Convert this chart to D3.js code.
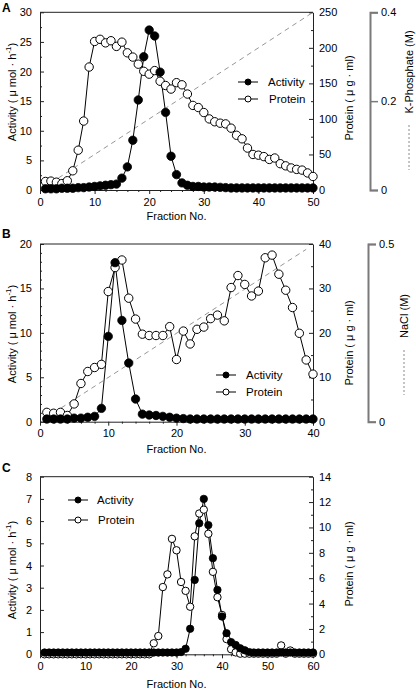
<!DOCTYPE html>
<html><head><meta charset="utf-8">
<script src="https://cdn.jsdelivr.net/npm/d3@7"></script>
<style>
body{margin:0;background:#fff}
svg{display:block}
text{font-family:"Liberation Sans",Arial,sans-serif;fill:#000}
</style>
</head><body>
<svg id="chart" width="416" height="691"></svg>
<script>
// ---------- Panel A ----------
const fractionsA = [1,2,3,4,5,6,7,8,9,10,11,12,13,14,15,16,17,18,19,20,21,22,23,24,25,26,27,28,29,30,31,32,33,34,35,36,37,38,39,40,41,42,43,44,45,46,47,48,49,50];
const activityA = [0.2,0.2,0.2,0.3,0.3,0.3,0.4,0.4,0.5,0.6, 0.7,0.8,0.9,1.0,2.0,3.9,8.4,15.2,22.5,27.0, 26.0,19.9,13.1,5.7,2.6,1.2,0.8,0.6,0.6,0.5, 0.5,0.5,0.45,0.4,0.35,0.35,0.35,0.35,0.35,0.35, 0.35,0.35,0.35,0.35,0.35,0.35,0.35,0.35,0.35,0.35];
const proteinA = [12,12.5,11,9,13,27,56,97,173,209, 212,207,210,202,208,193,187,177,167,163, 168,153,147,142,151,148,135,119,116,109, 100,96,94,93,87,77,72,59,50,49, 47,43,45,37,34,31,29,28,24,19];
const gradientAFractions = [2, 50];
const gradientAValues = [0.016, 0.4];
const leftTicksA = [0,5,10,15,20,25,30];
const rightTicksA = [0,50,100,150,200,250];
const xTicksA = [0,10,20,30,40,50];
const gradTicksA = [0,0.2,0.4];

// ---------- Panel B ----------
const fractionsB = [1,2,3,4,5,6,7,8,9,10,11,12,13,14,15,16,17,18,19,20,21,22,23,24,25,26,27,28,29,30,31,32,33,34,35,36,37,38,39,40];
const activityB = [0.3,0.3,0.3,0.3,0.4,0.4,0.5,0.6,1.5,9.6, 17.9,11.4,6.6,2.55,0.85,0.75,0.7,0.6,0.5,0.4, 0.35,0.3,0.3,0.3,0.3,0.3,0.3,0.3,0.3,0.3, 0.3,0.3,0.3,0.3,0.3,0.3,0.3,0.3,0.3,0.3];
const proteinB = [2.1,1.9,2.1,1.4,4.0,8.6,11.3,12.2,12.9,29.3, 34.7,36.4,27.8,23.1,19.7,19.4,19.4,19.4,21.4,14.0, 20.4,17.5,20.8,21.3,23.2,24.0,22.7,30.2,32.9,30.9, 28.3,29.4,36.9,37.5,33.2,29.6,25.7,19.9,13.9,10.7];
const gradientBFractions = [2, 39];
const gradientBValues = [0.025, 0.485];
const leftTicksB = [0,5,10,15,20];
const rightTicksB = [0,10,20,30,40];
const xTicksB = [0,10,20,30,40];
const gradTicksB = [0,0.5];

// ---------- Panel C ----------
const fractionsC = [1,2,3,4,5,6,7,8,9,10,11,12,13,14,15,16,17,18,19,20,21,22,23,24,25,26,27,28,29,30,31,32,33,34,35,36,37,38,39,40,41,42,43,44,45,46,47,48,49,50,51,52,53,54,55,56,57,58,59,60];
const activityC = [0.08,0.08,0.08,0.08,0.08,0.08,0.08,0.08,0.08,0.08, 0.08,0.08,0.08,0.08,0.08,0.08,0.08,0.08,0.08,0.08, 0.08,0.08,0.08,0.08,0.08,0.08,0.08,0.08,0.08,0.08, 0.1,0.25,1.15,3.35,5.9,7.0,5.82,4.33,2.9,1.7, 0.95,0.55,0.42,0.27,0.18,0.1,0.08,0.08,0.08,0.08, 0.08,0.08,0.08,0.08,0.08,0.08,0.08,0.08,0.08,0.08];
const proteinC = [0,0,0,0,0,0,0,0,0,0, 0,0,0,0,0,0,0,0,0,0, 0,0,0,0,0.87,1.44,5.3,6.3,9.1,8.2, 5.7,5.0,3.75,9.3,11.1,11.4,9.5,6.5,4.5,3.1, 1.2,0.4,0.15,0.05,0.05,0.05,0.05,0.05,0.05,0.05, 0.05,0.05,0.7,0.05,0.3,0.05,0.05,0.05,0.05,0.05];
const leftTicksC = [0,1,2,3,4,5,6,7,8];
const rightTicksC = [0,2,4,6,8,10,12,14];
const xTicksC = [0,10,20,30,40,50,60];

const legendLabels = ["Activity", "Protein"];

const svg = d3.select("#chart");
const X0 = 40, X1 = 313;

function axisStyle(sel, color, width){
  sel.select(".domain").attr("stroke", color || "#222").attr("stroke-width", width || 1);
  sel.selectAll(".tick line").attr("stroke", color || "#222");
  sel.selectAll(".tick text").attr("font-size", 11).attr("fill", "#000")
     .attr("font-family", '"Liberation Sans",Arial,sans-serif');
}
function minorAxis(g, axisFn, scale, vals, size, transform){
  const a = axisFn(scale).tickValues(vals).tickSizeInner(size).tickSizeOuter(0).tickFormat("");
  const s = g.append("g").attr("transform", transform).call(a);
  s.select(".domain").remove();
  s.selectAll(".tick line").attr("stroke", "#222");
}

function drawPanel(o){
  const g = svg.append("g");
  const x = d3.scaleLinear().domain([o.xTicks[0], o.xTicks[o.xTicks.length-1]]).range([X0, X1]);
  const yL = d3.scaleLinear().domain([0, o.leftTicks[o.leftTicks.length-1]]).range([o.bottom, o.top]);
  const yR = d3.scaleLinear().domain([0, o.rightTicks[o.rightTicks.length-1]]).range([o.bottom, o.top]);

  // gradient
  if (o.gradF){
    const yG = d3.scaleLinear().domain([0, o.gradTicks[o.gradTicks.length-1]]).range([o.bottom, o.top]);
    const pts = o.gradF.map((f,i)=>[f, o.gradV[i]]);
    g.append("path").datum(pts)
      .attr("d", d3.line().x(d=>x(d[0])).y(d=>yG(d[1])))
      .attr("fill","none").attr("stroke","#8a8a8a").attr("stroke-width",0.9).attr("stroke-dasharray","5,4");
    const ga = g.append("g").attr("transform", `translate(${o.gAxisX},0)`)
      .call(d3.axisRight(yG).tickValues(o.gradTicks).tickSize(8).tickPadding(3).tickFormat(d=> d===0 ? "0" : d3.format(".1f")(d)));
    axisStyle(ga, "#7a7a7a", 2);
    ga.selectAll(".tick line").attr("stroke-width", 1.5);
    g.append("text").attr("transform", `translate(${o.gLabelX},${o.gLabelY}) rotate(-90)`)
      .attr("text-anchor","middle").attr("dominant-baseline","central").attr("font-size",11).text(o.gLabel);
    g.append("line").attr("x1", o.gLabelX).attr("x2", o.gLabelX).attr("y1", o.gDashY[0]).attr("y2", o.gDashY[1])
      .attr("stroke","#8a8a8a").attr("stroke-width",1).attr("stroke-dasharray","2,2");
  }

  // minor ticks
  minorAxis(g, d3.axisBottom, x, o.xMinor, 2, `translate(0,${o.bottom})`);
  minorAxis(g, d3.axisLeft, yL, o.leftMinor, -2, `translate(${X0},0)`);
  minorAxis(g, d3.axisRight, yR, o.rightMinor, -2, `translate(${X1},0)`);

  // axes
  const xa = g.append("g").attr("transform", `translate(0,${o.bottom})`)
    .call(d3.axisBottom(x).tickValues(o.xTicks).tickSizeInner(4).tickSizeOuter(0).tickPadding(4));
  axisStyle(xa);
  const la = g.append("g").attr("transform", `translate(${X0},0)`)
    .call(d3.axisLeft(yL).tickValues(o.leftTicks).tickSizeInner(-4).tickSizeOuter(0).tickPadding(8));
  axisStyle(la);
  const ra = g.append("g").attr("transform", `translate(${X1},0)`)
    .call(d3.axisRight(yR).tickValues(o.rightTicks).tickSizeInner(-4).tickSizeOuter(0).tickPadding(6));
  axisStyle(ra);
  g.append("line").attr("x1",X0).attr("x2",X1).attr("y1",o.top).attr("y2",o.top).attr("stroke","#222");

  // series
  const line = d3.line().x(d=>x(d[0])).y(d=>d[2]);
  const prot = o.fractions.map((f,i)=>[f, o.protein[i], yR(o.protein[i])]);
  const act = o.fractions.map((f,i)=>[f, o.activity[i], yL(o.activity[i])]);
  g.append("path").datum(prot).attr("d", line).attr("fill","none").attr("stroke","#000").attr("stroke-width",1);
  g.append("path").datum(act).attr("d", line).attr("fill","none").attr("stroke","#000").attr("stroke-width",1);
  g.selectAll(".p").data(prot).join("circle").attr("cx",d=>x(d[0])).attr("cy",d=>d[2]).attr("r",o.r)
    .attr("fill","#fff").attr("stroke","#000").attr("stroke-width",1);
  g.selectAll(".a").data(act).join("circle").attr("cx",d=>x(d[0])).attr("cy",d=>d[2]).attr("r",o.r)
    .attr("fill","#000").attr("stroke","#000").attr("stroke-width",0.8);

  // legend
  legendLabels.forEach((lab,i)=>{
    const ly = o.legY[i];
    g.append("line").attr("x1",o.legX).attr("x2",o.legX+20).attr("y1",ly).attr("y2",ly).attr("stroke","#000");
    g.append("circle").attr("cx",o.legX+10).attr("cy",ly).attr("r",3)
      .attr("fill", i===0 ? "#000" : "#fff").attr("stroke","#000");
    g.append("text").attr("x",o.legTextX + (i===1 ? o.legShift : 0)).attr("y",ly).attr("dominant-baseline","central")
      .attr("font-size",11.5).text(lab);
  });

  // titles
  const lt = g.append("text").attr("transform",`translate(${o.leftTitleX},${o.leftTitleY}) rotate(-90)`)
    .attr("text-anchor","middle").attr("dominant-baseline","central").attr("font-size",11);
  lt.append("tspan").text("Activity ( \u03bc mol \u00b7 h");
  lt.append("tspan").attr("font-size",8).attr("dy",-4).text("-1");
  lt.append("tspan").attr("dy",4).text(")");
  g.append("text").attr("transform",`translate(349,${o.rightTitleY}) rotate(-90)`)
    .attr("text-anchor","middle").attr("dominant-baseline","central").attr("font-size",11)
    .text("Protein ( \u03bc g \u00b7 ml)");
  g.append("text").attr("x",(X0+X1)/2).attr("y",o.xTitleY).attr("text-anchor","middle").attr("font-size",11).text("Fraction No.");
  g.append("text").attr("x",2).attr("y",o.letterY).attr("font-size",12).attr("font-weight","bold").text(o.letter);
}

drawPanel({
  letter:"A", letterY:12, top:12.3, bottom:190,
  fractions:fractionsA, activity:activityA, protein:proteinA,
  xTicks:xTicksA, xMinor:[2,4,6,8,12,14,16,18,22,24,26,28,32,34,36,38,42,44,46,48],
  leftTicks:leftTicksA, leftMinor:[2.5,7.5,12.5,17.5,22.5,27.5],
  rightTicks:rightTicksA, rightMinor:[25,75,125,175,225],
  gradF:gradientAFractions, gradV:gradientAValues, gradTicks:gradTicksA,
  gAxisX:370, gLabel:"K-Phosphate (M)", gLabelX:409, gLabelY:72, gDashY:[125,170],
  r:4.2, legX:238, legY:[82,99], legTextX:268, legShift:1,
  leftTitleX:12, leftTitleY:92, rightTitleY:98, xTitleY:220
});
drawPanel({
  letter:"B", letterY:238, top:244, bottom:421.7,
  fractions:fractionsB, activity:activityB, protein:proteinB,
  xTicks:xTicksB, xMinor:[2,4,6,8,12,14,16,18,22,24,26,28,32,34,36,38],
  leftTicks:leftTicksB, leftMinor:[1,2,3,4,6,7,8,9,11,12,13,14,16,17,18,19],
  rightTicks:rightTicksB, rightMinor:[5,15,25,35],
  gradF:gradientBFractions, gradV:gradientBValues, gradTicks:gradTicksB,
  gAxisX:368, gLabel:"NaCl (M)", gLabelX:404, gLabelY:316, gDashY:[350,395],
  r:4.2, legX:216, legY:[375,392], legTextX:246, legShift:0,
  leftTitleX:12, leftTitleY:334, rightTitleY:343, xTitleY:453
});
drawPanel({
  letter:"C", letterY:472, top:476.7, bottom:654.3,
  fractions:fractionsC, activity:activityC, protein:proteinC,
  xTicks:xTicksC, xMinor:[2,4,6,8,12,14,16,18,22,24,26,28,32,34,36,38,42,44,46,48,52,54,56,58],
  leftTicks:leftTicksC, leftMinor:[],
  rightTicks:rightTicksC, rightMinor:[1,3,5,7,9,11,13],
  r:3.7, legX:68, legY:[500,520], legTextX:97, legShift:1,
  leftTitleX:12, leftTitleY:570, rightTitleY:564, xTitleY:688
});
</script>
</body></html>
